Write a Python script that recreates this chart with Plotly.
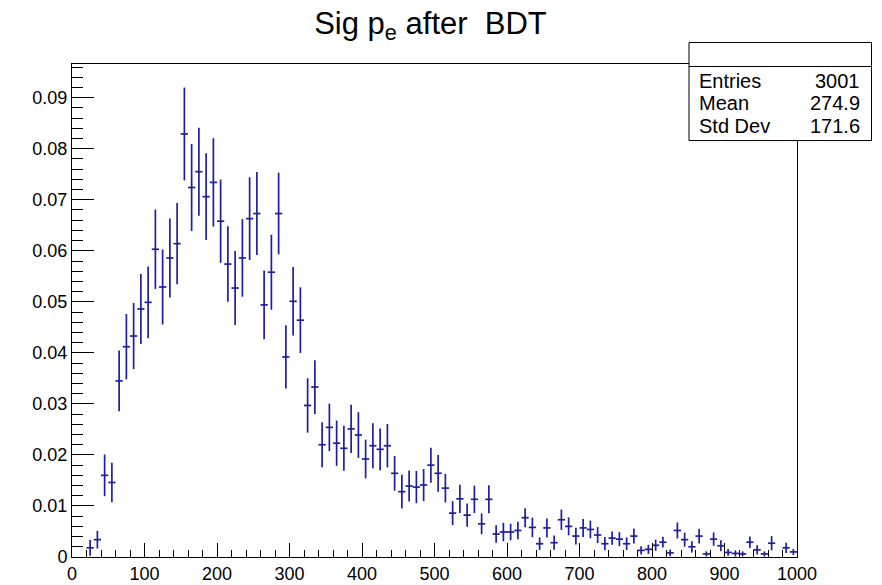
import plotly.graph_objects as go

# Bin centres (bin width 10) of non-empty bins, contents and errors
bin_centers = [25, 35, 45, 55, 65, 75, 85, 95, 105, 115, 125, 135, 145, 155, 165, 175, 185, 195, 205, 215,
               225, 235, 245, 255, 265, 275, 285, 295, 305, 315, 325, 335, 345, 355, 365, 375, 385, 395, 405, 415,
               425, 435, 445, 455, 465, 475, 485, 495, 505, 515, 525, 535, 545, 555, 565, 575, 585, 595, 605, 615,
               625, 635, 645, 655, 665, 675, 685, 695, 705, 715, 725, 735, 745, 755, 765, 775, 785, 795, 805, 815,
               825, 835, 845, 855, 865, 875, 885, 895, 905, 915, 925, 935, 945, 955, 965, 985, 995]
bin_values = [0.0018, 0.0034, 0.0160, 0.0146, 0.0345, 0.0412, 0.0433, 0.0486, 0.0499, 0.0603,
              0.0529, 0.0586, 0.0614, 0.0829, 0.0724, 0.0755, 0.0706, 0.0734, 0.0658, 0.0574,
              0.0527, 0.0586, 0.0663, 0.0673, 0.0494, 0.0558, 0.0673, 0.0392, 0.0501, 0.0464,
              0.0297, 0.0333, 0.0220, 0.0254, 0.0223, 0.0213, 0.0251, 0.0239, 0.0192, 0.0218,
              0.0211, 0.0218, 0.0164, 0.0128, 0.0139, 0.0137, 0.0141, 0.0180, 0.0164, 0.0135,
              0.0086, 0.0114, 0.0082, 0.0113, 0.0065, 0.0113, 0.0045, 0.0049, 0.0049, 0.0052,
              0.0077, 0.0058, 0.0026, 0.0057, 0.0028, 0.0073, 0.0060, 0.0041, 0.0057, 0.0054,
              0.0043, 0.0026, 0.0037, 0.0035, 0.0026, 0.0041, 0.0013, 0.0015, 0.0023, 0.0029,
              0.0008, 0.0052, 0.0034, 0.0020, 0.0041, 0.0006, 0.0035, 0.0022, 0.0009, 0.0007,
              0.0006, 0.0029, 0.0014, 0.0006, 0.0027, 0.0018, 0.0010]
bin_errors = [0.00154, 0.00173, 0.00408, 0.00386, 0.00595, 0.0064, 0.00647, 0.00686, 0.00702, 0.00778,
              0.00735, 0.00775, 0.00794, 0.0091, 0.00853, 0.00863, 0.0085, 0.00866, 0.00817, 0.00739,
              0.00725, 0.0076, 0.0081, 0.00814, 0.00673, 0.00735, 0.008, 0.0062, 0.0067, 0.00644,
              0.00533, 0.00526, 0.0044, 0.00464, 0.00444, 0.00441, 0.00474, 0.00448, 0.00379, 0.00441,
              0.00408, 0.00425, 0.0034, 0.0033, 0.00304, 0.00317, 0.00314, 0.00343, 0.0036, 0.0028,
              0.00235, 0.00278, 0.00229, 0.00268, 0.00203, 0.00275, 0.00173, 0.0018, 0.00163, 0.0017,
              0.00186, 0.0019, 0.00124, 0.00186, 0.0014, 0.002, 0.00176, 0.00163, 0.00176, 0.00173,
              0.00157, 0.0013, 0.0013, 0.00137, 0.00124, 0.00147, 0.0008, 0.0009, 0.0011, 0.00105,
              0.00065, 0.00157, 0.00137, 0.0011, 0.00144, 0.0005, 0.0013, 0.00108, 0.00065, 0.0006,
              0.0005, 0.00114, 0.0009, 0.0005, 0.0014, 0.001, 0.0006]
bin_half_width = 5

stats_labels = ["Entries", "Mean", "Std Dev"]
stats_values = ["3001", "274.9", "171.6"]

LINE = "#1f1f9e"
FONT = "Liberation Sans, Arial, Helvetica, sans-serif"

fig = go.Figure()
fig.add_trace(go.Scatter(
    x=bin_centers, y=bin_values, mode="markers",
    marker=dict(size=1, color=LINE),
    error_y=dict(type="data", array=bin_errors, symmetric=True, width=0, thickness=1.7, color=LINE),
    error_x=dict(type="constant", value=bin_half_width, width=0, thickness=1.7, color=LINE),
    showlegend=False, hoverinfo="x+y",
))

# plot area in pixels
L, R, T, B = 72, 797, 64, 556.7
W, H = 882, 585

def px(xp):
    return (xp - L) / (R - L)

def py(yp):
    return (B - yp) / (B - T)

shapes = [
    dict(type="rect", xref="paper", yref="paper", x0=px(689), x1=px(871.5), y0=py(140.5), y1=py(42.5),
         line=dict(color="black", width=1), fillcolor="white", layer="above"),
    dict(type="line", xref="paper", yref="paper", x0=px(689), x1=px(871.5), y0=py(66.5), y1=py(66.5),
         line=dict(color="black", width=1), layer="above"),
]
annotations = []
row_y = [80.7, 103.3, 126]
for lab, val, yy in zip(stats_labels, stats_values, row_y):
    annotations.append(dict(text=lab, xref="paper", yref="paper", x=px(697), y=py(yy), xanchor="left",
                            yanchor="middle", showarrow=False, font=dict(family=FONT, size=20, color="black")))
    annotations.append(dict(text=val, xref="paper", yref="paper", x=px(862), y=py(yy), xanchor="right",
                            yanchor="middle", showarrow=False, font=dict(family=FONT, size=20, color="black")))

fig.update_layout(
    width=W, height=H,
    margin=dict(l=L, r=W - R, t=T, b=H - B, pad=0, autoexpand=False),
    paper_bgcolor="white", plot_bgcolor="white",
    font=dict(family=FONT, color="black"),
    title=dict(text="Sig p<sub>e</sub> after\u00a0 BDT", x=430.5 / W, xref="container", xanchor="center",
               y=1 - 23 / H, yref="container", yanchor="middle", font=dict(family=FONT, size=31, color="black")),
    xaxis=dict(range=[0, 1000], dtick=100, tick0=0, showgrid=False, zeroline=False, automargin=False,
               showline=True, mirror=True, linecolor="black", linewidth=1,
               ticks="inside", ticklen=14, tickwidth=1, tickcolor="black",
               minor=dict(dtick=20, ticks="inside", ticklen=7, tickwidth=1, tickcolor="black", showgrid=False),
               tickfont=dict(family=FONT, size=18, color="black")),
    yaxis=dict(range=[0, 0.0966], dtick=0.01, tick0=0, showgrid=False, zeroline=False, automargin=False,
               showline=True, mirror=True, linecolor="black", linewidth=1,
               ticks="inside", ticklen=22, tickwidth=1, tickcolor="black",
               minor=dict(dtick=0.002, ticks="inside", ticklen=11, tickwidth=1, tickcolor="black", showgrid=False),
               tickfont=dict(family=FONT, size=18, color="black")),
    shapes=shapes, annotations=annotations,
)

fig.write_html("out.html", config={"displayModeBar": False},
               post_script="document.body.style.margin='0';")
